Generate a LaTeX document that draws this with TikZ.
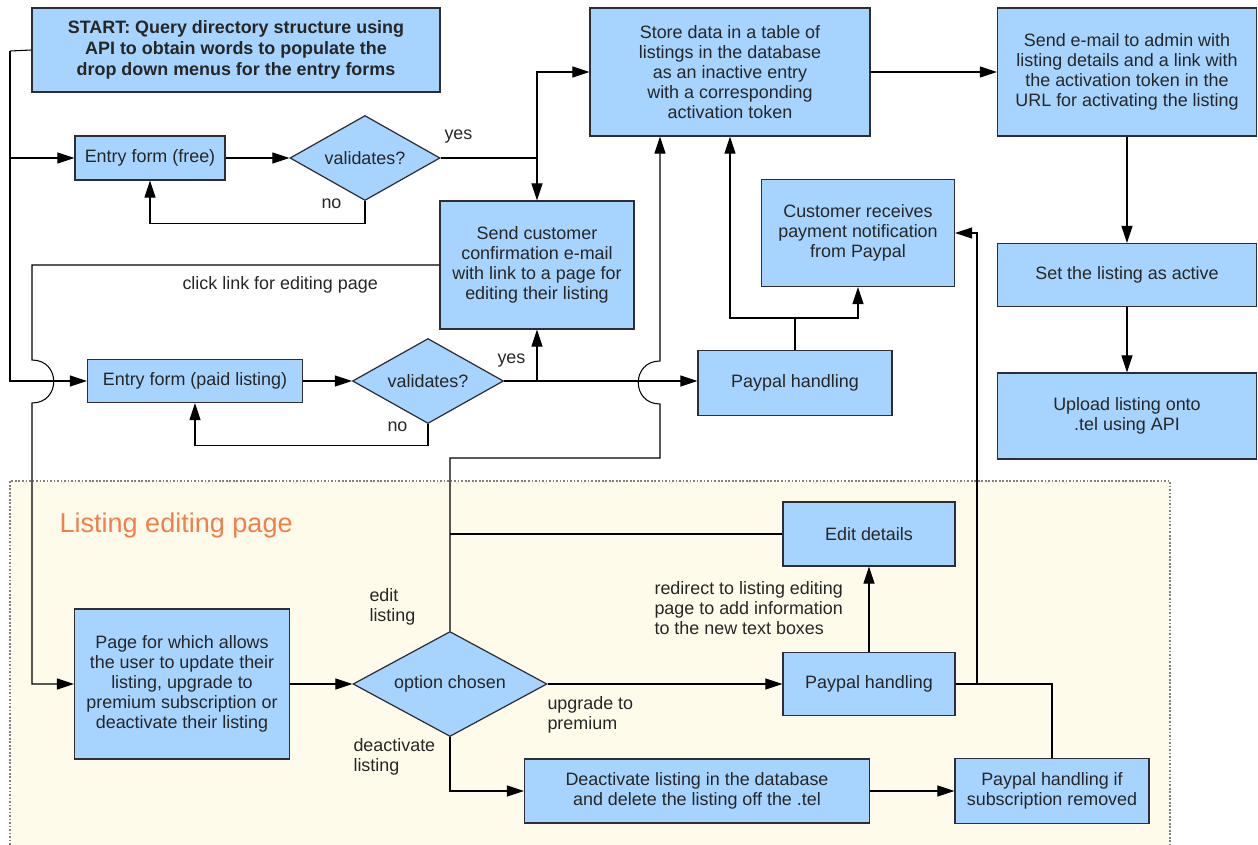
\documentclass[tikz,border=0pt]{standalone}
\usepackage{fontspec}
\setmainfont{Liberation Sans}
\usetikzlibrary{shapes.geometric,arrows.meta}

\definecolor{boxfill}{RGB}{166,212,255}
\definecolor{boxline}{RGB}{45,45,55}
\definecolor{pagefill}{RGB}{255,251,235}
\definecolor{pagetitle}{RGB}{238,128,78}

\tikzset{
  box/.style 2 args={draw=boxline, fill=boxfill, line width=0.7pt, minimum width=#1*0.02cm, minimum height=#2*0.02cm, inner sep=0pt, align=center, text=black!85},
  test/.style 2 args={diamond, draw=boxline, fill=boxfill, line width=0.7pt, minimum width=#1*0.02cm, minimum height=#2*0.02cm, aspect=1.8, inner sep=0pt, text=black!85},
  lbl/.style={inner sep=0pt, align=left, anchor=west, text=black!85}
}

\begin{document}
\begin{tikzpicture}[x=0.02cm, y=-0.02cm, font=\fontsize{10.2}{11.4}\selectfont, >={Triangle[length=3.4mm,width=2.2mm]}, line width=0.6pt]
\useasboundingbox (0,0) rectangle (1258,845);

% editing page area
\fill[pagefill] (10,481) rectangle (1170,845);
\draw[gray, dash pattern=on 1pt off 1pt] (10,845) -- (10,481) -- (1170,481) -- (1170,845);
\node[lbl, text=pagetitle, font=\fontsize{15.4}{18}\selectfont] (title) at (59,525) {Listing editing page};

% boxes
\node[box={408}{84}, font=\fontsize{10.2}{11.9}\selectfont\bfseries] (start) at (236,50) {START: Query directory structure using\\API to obtain words to populate the\\drop down menus for the entry forms};
\node[box={150}{44}] (free) at (150,158) {Entry form (free)};
\node[test={150}{85}] (val1) at (365,158) {validates?};
\node[box={280}{128}] (store) at (730,72) {Store data in a table of\\listings in the database\\as an inactive entry\\with a corresponding\\activation token};
\node[box={259}{128}] (admin) at (1127,72) {Send e-mail to admin with\\listing details and a link with\\the activation token in the\\URL for activating the listing};
\node[box={194}{128}] (confirm) at (537,265) {Send customer\\confirmation e-mail\\with link to a page for\\editing their listing};
\node[box={193}{107}] (notify) at (858,233) {Customer receives\\payment notification\\from Paypal};
\node[box={259}{63}] (active) at (1127,275) {Set the listing as active};
\node[box={215}{43}] (paid) at (195,381) {Entry form (paid listing)};
\node[test={151}{85}] (val2) at (428,381) {validates?};
\node[box={194}{65}] (paypal) at (795,383) {Paypal handling};
\node[box={259}{86}] (upload) at (1127,416) {Upload listing onto\\.tel using API};
\node[box={172}{64}] (edit) at (869,534) {Edit details};
\node[box={215}{150}] (page) at (182,684) {Page for which allows\\the user to update their\\listing, upgrade to\\premium subscription or\\deactivate their listing};
\node[test={194}{105}] (option) at (450,684) {option chosen};
\node[box={172}{63}] (upgrade) at (869,684) {Paypal handling};
\node[box={345}{64}] (deact) at (697,791) {Deactivate listing in the database\\and delete the listing off the .tel};
\node[box={194}{65}] (unsub) at (1052,791) {Paypal handling if\\subscription removed};

% corners and line hops
\coordinate (rail) at (10,51);
\coordinate (yes1) at (537,158);
\coordinate (yes2) at (537,381);
\coordinate (hopA) at (32,360);
\coordinate (hopB) at (32,403);
\coordinate (hopC) at (660,404);
\coordinate (hopD) at (660,361);
\coordinate (up) at (660,458);
\coordinate (pay) at (795,318);
\coordinate (back) at (977,684);

% connectors
\draw (start.west) -- (rail);
\draw[->] (rail) |- (paid.west);
\draw[->] (rail |- free.west) -- (free.west);
\draw[->] (free) -- (val1);
\draw[->] (val1.south) -- ++(0,22) -| (free.south);
\draw (val1.east) -- (yes1);
\draw[->] (yes1) |- (store.west);
\draw[->] (yes1) -- (confirm.north);
\draw[->] (store) -- (admin);
\draw[->] (admin) -- (active);
\draw[->] (active) -- (upload);
\draw[->] (confirm.west) -| (hopA) .. controls +(29,0) and +(29,0) .. (hopB) |- (page.west);
\draw[->] (paid) -- (val2);
\draw[->] (val2.south) -- ++(0,21) -| (paid.south);
\draw (val2.east) -- (yes2);
\draw[->] (yes2) -- (confirm.south);
\draw[->] (yes2) -- (yes2 -| paypal.west);
\draw[->] (option.north) |- (up) -- (hopC) .. controls +(-29,0) and +(-29,0) .. (hopD) -- (hopD |- store.south);
\draw (edit.west) -- (edit.west -| option.north);
\draw (paypal.north) -- (pay);
\draw[->] (pay) -| (store.south);
\draw[->] (pay) -| (notify.south);
\draw[->] (page) -- (option);
\draw[->] (option) -- (upgrade);
\draw[->] (option.south) |- (deact.west);
\draw[->] (deact) -- (unsub);
\draw[->] (upgrade) -- (edit);
\draw (upgrade.east) -- (back);
\draw[->] (back) |- (notify.east);
\draw (unsub.north) |- (back);

% labels
\node[lbl] (no1) at (321,204) {no};
\node[lbl] (ok1) at (444,137) {yes};
\node[lbl] (no2) at (387,427) {no};
\node[lbl] (ok2) at (497,361) {yes};
\node[lbl] (click) at (182,285) {click link for editing page};
\node[lbl] (editlbl) at (369,607) {edit\\listing};
\node[lbl] (deactlbl) at (353,757) {deactivate\\listing};
\node[lbl] (uplbl) at (547,715) {upgrade to\\premium};
\node[lbl] (redirect) at (654,608) {redirect to listing editing\\page to add information\\to the new text boxes};
\end{tikzpicture}
\end{document}
